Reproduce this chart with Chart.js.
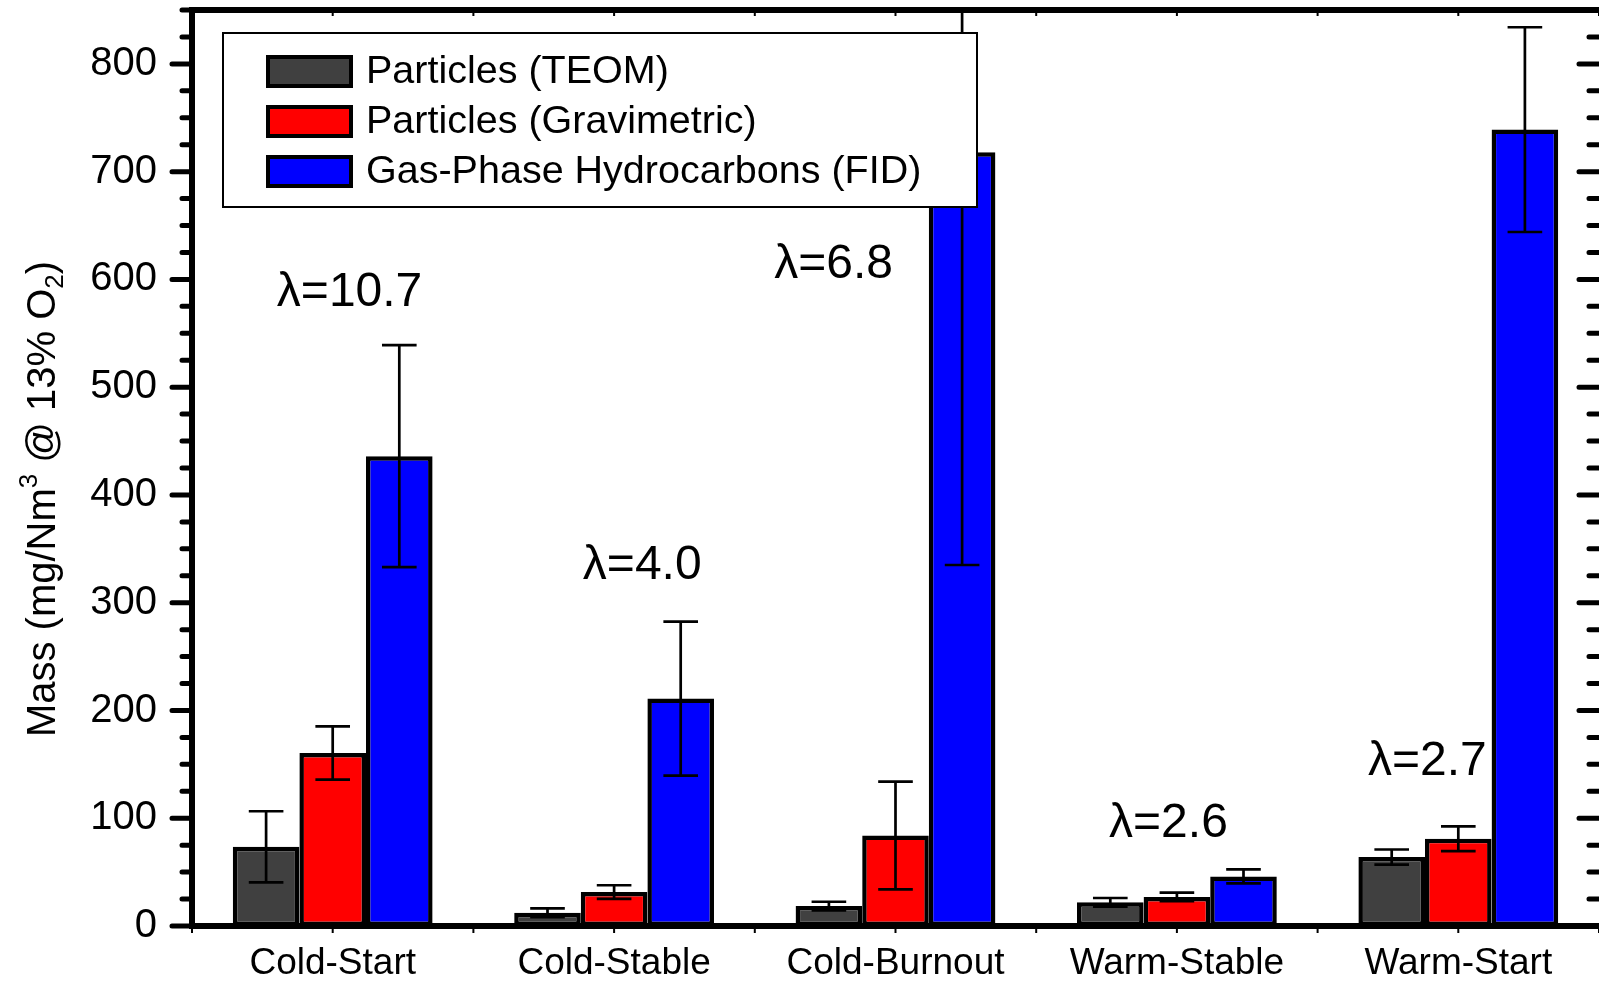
<!DOCTYPE html>
<html>
<head>
<meta charset="utf-8">
<script src="https://cdn.jsdelivr.net/npm/chart.js@4.4.0/dist/chart.umd.min.js"></script>
<style>
  body { margin: 0; background: #fff; }
  canvas { display: block; }
</style>
</head>
<body>
<canvas id="chart" width="1599" height="981"></canvas>
<script>
const FONT = "'Liberation Sans', Arial, sans-serif";

// categories and series (mg/Nm3 @ 13% O2)
const categories = ["Cold-Start", "Cold-Stable", "Cold-Burnout", "Warm-Stable", "Warm-Start"];
const teom = [73.5, 12.3, 18.5, 22, 64];
const teomErr = [33, 4, 4, 4, 7];
const grav = [160.5, 31.5, 84, 27, 81];
const gravErr = [24.7, 6.3, 50, 4, 11.5];
const fid = [436, 211, 718, 46, 739];
const fidErr = [103, 71.5, 383, 6.5, 95];

// lambda annotations: text, category position, value at baseline
const lambdaText = ["λ=10.7", "λ=4.0", "λ=6.8", "λ=2.6", "λ=2.7"];
const lambdaAt = [0.06, 1.10, 1.78, 2.97, 3.89];
const lambdaVal = [575, 322, 601, 83, 140];

const yMax = 850;

// error bars, frame, ticks, labels and legend drawn over the bars
const overlay = {
  id: "overlay",
  afterDraw(chart) {
    const { ctx, chartArea: a, scales: { x, y } } = chart;

    // error bars (clipped to the plot)
    ctx.save();
    ctx.beginPath();
    ctx.rect(a.left, a.top, a.right - a.left, a.bottom - a.top);
    ctx.clip();
    ctx.strokeStyle = "#000";
    ctx.lineWidth = 2.7;
    chart.data.datasets.forEach((ds, i) => {
      chart.getDatasetMeta(i).data.forEach((bar, j) => {
        const v = ds.data[j], e = ds.errors[j];
        const top = y.getPixelForValue(v + e), bot = y.getPixelForValue(v - e);
        const half = bar.width * 0.26;
        ctx.beginPath();
        ctx.moveTo(bar.x, top); ctx.lineTo(bar.x, bot);
        ctx.moveTo(bar.x - half, top); ctx.lineTo(bar.x + half, top);
        ctx.moveTo(bar.x - half, bot); ctx.lineTo(bar.x + half, bot);
        ctx.stroke();
      });
    });
    ctx.restore();

    // frame
    ctx.save();
    ctx.strokeStyle = "#000";
    ctx.lineWidth = 6;
    ctx.beginPath();
    ctx.moveTo(a.left, a.top); ctx.lineTo(chart.width, a.top);
    ctx.moveTo(a.left, a.bottom); ctx.lineTo(chart.width, a.bottom);
    ctx.moveTo(a.left, a.top - 3); ctx.lineTo(a.left, a.bottom + 3);
    ctx.stroke();

    // y ticks, major every 100, minor every 25
    ctx.lineWidth = 5;
    ctx.lineCap = "round";
    for (let v = 0; v <= yMax; v += 25) {
      const py = y.getPixelForValue(v);
      const major = v % 100 === 0;
      ctx.beginPath();
      ctx.moveTo(a.left - (major ? 20 : 10), py); ctx.lineTo(a.left, py);
      ctx.moveTo(chart.width + 2, py); ctx.lineTo(chart.width - (major ? 20 : 10), py);
      ctx.stroke();
    }
    // x ticks at centres and edges of categories
    ctx.lineWidth = 2;
    ctx.lineCap = "butt";
    for (let k = 0; k <= categories.length * 2; k++) {
      const px = x.getPixelForValue(k / 2 - 0.5);
      ctx.beginPath();
      ctx.moveTo(px, a.bottom); ctx.lineTo(px, a.bottom + 7);
      ctx.moveTo(px, a.top); ctx.lineTo(px, a.top + 6);
      ctx.stroke();
    }
    ctx.restore();

    // lambda labels
    ctx.save();
    ctx.fillStyle = "#000";
    ctx.font = "48px " + FONT;
    ctx.textAlign = "center";
    ctx.textBaseline = "alphabetic";
    lambdaText.forEach((t, i) => {
      ctx.fillText(t, x.getPixelForValue(lambdaAt[i]), y.getPixelForValue(lambdaVal[i]));
    });
    ctx.restore();

    // legend box
    ctx.save();
    const lx = 223, ly = 33, lw = 754, lh = 174;
    ctx.fillStyle = "#fff";
    ctx.fillRect(lx, ly, lw, lh);
    ctx.strokeStyle = "#000";
    ctx.lineWidth = 2;
    ctx.strokeRect(lx, ly, lw, lh);
    ctx.font = "39.5px " + FONT;
    ctx.textBaseline = "middle";
    chart.data.datasets.forEach((ds, i) => {
      const cy = 71.5 + i * 50;
      ctx.fillStyle = ds.backgroundColor;
      ctx.fillRect(268, cy - 14.5, 83, 29);
      ctx.lineWidth = 4;
      ctx.strokeRect(268, cy - 14.5, 83, 29);
      ctx.fillStyle = "#000";
      ctx.fillText(ds.label, 366, cy + 1);
    });
    ctx.restore();

    // y axis title with super/subscript
    ctx.save();
    ctx.translate(55, 499);
    ctx.rotate(-Math.PI / 2);
    const parts = [
      ["Mass (mg/Nm", 0], ["3", -1], [" @ 13% O", 0], ["2", 1], [")", 0]
    ];
    const big = "40px " + FONT, small = "26px " + FONT;
    let total = 0;
    parts.forEach(([t, s]) => { ctx.font = s ? small : big; total += ctx.measureText(t).width; });
    let cx = -total / 2;
    ctx.fillStyle = "#000";
    ctx.textBaseline = "alphabetic";
    parts.forEach(([t, s]) => {
      ctx.font = s ? small : big;
      const dy = s === -1 ? -18 : s === 1 ? 8 : 0;
      ctx.fillText(t, cx, dy);
      cx += ctx.measureText(t).width;
    });
    ctx.restore();
  }
};

new Chart(document.getElementById("chart"), {
  type: "bar",
  data: {
    labels: categories,
    datasets: [
      { label: "Particles (TEOM)", data: teom, errors: teomErr, backgroundColor: "#404040" },
      { label: "Particles (Gravimetric)", data: grav, errors: gravErr, backgroundColor: "#ff0000" },
      { label: "Gas-Phase Hydrocarbons (FID)", data: fid, errors: fidErr, backgroundColor: "#0000ff" }
    ]
  },
  options: {
    responsive: false,
    animation: false,
    layout: { padding: { top: 10, right: 0, bottom: 0, left: 0 } },
    datasets: {
      bar: {
        borderColor: "#000",
        borderWidth: 4.5,
        borderSkipped: false,
        categoryPercentage: 0.71,
        barPercentage: 1.0
      }
    },
    plugins: {
      legend: { display: false },
      tooltip: { enabled: false }
    },
    scales: {
      x: {
        grid: { display: false, drawTicks: false },
        border: { display: false },
        ticks: { color: "#000", font: { family: FONT, size: 37 }, padding: 16, maxRotation: 0 },
        afterFit(s) { s.height = 55; s.paddingLeft = 0; s.paddingRight = 0; }
      },
      y: {
        min: 0,
        max: yMax,
        grid: { display: false, drawTicks: false },
        border: { display: false },
        ticks: {
          stepSize: 100,
          includeBounds: false,
          color: "#000",
          font: { family: FONT, size: 40 },
          padding: 35,
          callback: v => (v % 100 === 0 ? v : "")
        },
        afterFit(s) { s.width = 192; s.paddingTop = 0; s.paddingBottom = 0; }
      }
    }
  },
  plugins: [overlay]
});
</script>
</body>
</html>
